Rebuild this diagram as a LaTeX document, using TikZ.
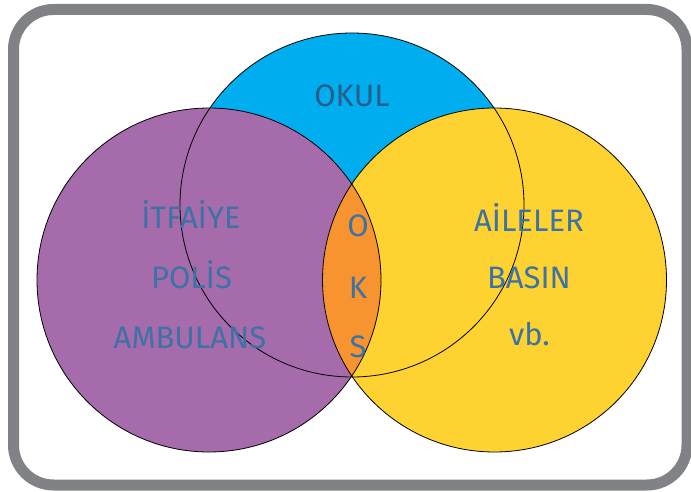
\documentclass[tikz,border=0pt]{standalone}
\usepackage{fontspec}
\setmainfont{Fira Sans}
\definecolor{mavi}{RGB}{0,174,239}
\definecolor{mor}{RGB}{166,107,170}
\definecolor{sari}{RGB}{253,210,49}
\definecolor{turuncu}{RGB}{247,148,47}
\definecolor{yazi}{RGB}{60,114,165}
\definecolor{koyuyazi}{RGB}{42,92,140}
\definecolor{cerceve}{RGB}{128,130,133}

\begin{document}
\begin{tikzpicture}[x=1pt, y=-1pt,
  every node/.style = {font=\fontsize{31}{36}\selectfont, text=yazi,
    anchor=base, inner sep=0pt},
  kenar/.style = {draw=black, line width=0.8pt}]
  \useasboundingbox (0,0) rectangle (691,492);
  \draw[cerceve, line width=11pt, rounded corners=40pt] (13.5,9.5) rectangle (687,485);

  \coordinate (okul) at (352,205);
  \coordinate (acil) at (209,280);
  \coordinate (aile) at (494.5,280);

  \fill[mavi] (okul) circle (172pt);
  \fill[mor] (acil) circle (172pt);
  \fill[sari] (aile) circle (172pt);
  \begin{scope}
    \clip (acil) circle (172pt);
    \fill[turuncu] (aile) circle (172pt);
  \end{scope}
  \draw[kenar] (okul) circle (172pt);
  \draw[kenar] (acil) circle (172pt);
  \draw[kenar] (aile) circle (172pt);

  \node[text=koyuyazi] (okulyazi) at (352,107) {OKUL};
  \node (itfaiye) at (191,228) {İTFAİYE};
  \node (polis) at (191.5,288) {POLİS};
  \node (ambulans) at (190,348) {AMBULANS};
  \node (aileler) at (529,231) {AİLELER};
  \node (basin) at (529,288) {BASIN};
  \node (vb) at (529.5,345) {vb.};
  \node (o) at (358,236) {O};
  \node (k) at (358,298) {K};
  \node (s) at (358,357) {S};
\end{tikzpicture}
\end{document}
